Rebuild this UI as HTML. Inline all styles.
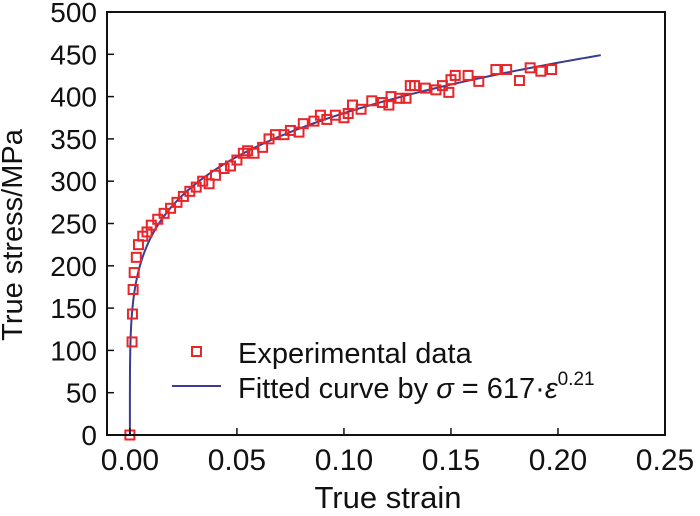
<!DOCTYPE html>
<html><head><meta charset="utf-8"><style>
html,body{margin:0;padding:0;background:#fff;}
svg{display:block;font-family:"Liberation Sans",Arial,sans-serif;}
</style></head><body>
<svg id="chart" width="700" height="516" viewBox="0 0 700 516" xmlns="http://www.w3.org/2000/svg">
<g id="plot"></g>
<g id="axes"></g>
<g id="legend">
  <rect x="192" y="347" width="9" height="9" fill="none" stroke="#e8262a" stroke-width="2"/>
  <text x="238" y="363" font-size="29" fill="#111">Experimental data</text>
  <line x1="172" y1="386" x2="221" y2="386" stroke="#3a3d8f" stroke-width="2"/>
  <text x="238" y="398" font-size="29" fill="#111">Fitted curve by <tspan font-style="italic">σ</tspan> = 617·<tspan font-style="italic">ε</tspan><tspan font-size="19" dy="-13">0.21</tspan></text>
</g>
<text x="388" y="508" font-size="31" text-anchor="middle" fill="#111">True strain</text>
<text transform="translate(22,235) rotate(-90)" font-size="29" text-anchor="middle" fill="#111">True stress/MPa</text>
</svg>
<script>
const xTicks=[0,0.05,0.10,0.15,0.20,0.25];
const xTickLabels=["0.00","0.05","0.10","0.15","0.20","0.25"];
const yTicks=[0,50,100,150,200,250,300,350,400,450,500];
const yTickLabels=["0","50","100","150","200","250","300","350","400","450","500"];
const expStrain=[0,0.001,0.0012,0.0015,0.002,0.003,0.004,0.006,0.008,0.010,0.013,0.016,0.019,0.022,0.025,0.028,0.031,0.034,0.037,0.040,0.044,0.047,0.050,0.053,0.055,0.058,0.062,0.065,0.068,0.072,0.075,0.079,0.081,0.086,0.089,0.092,0.096,0.100,0.102,0.104,0.108,0.113,0.118,0.121,0.122,0.126,0.129,0.131,0.133,0.138,0.143,0.146,0.149,0.150,0.152,0.158,0.163,0.171,0.176,0.182,0.187,0.192,0.197];
const expStress=[0,110,143,172,192,210,225,235,240,248,255,262,268,275,282,288,293,300,297,307,315,318,325,333,336,333,340,350,355,355,360,358,368,371,378,373,378,375,380,390,385,395,393,390,400,398,398,413,413,410,408,413,405,420,425,425,418,432,432,419,434,430,432];
const fitK=617, fitN=0.21, fitMax=0.22;
const X0=107,X1=665,Y0=435,Y1=12,XMIN=-0.0107,XMAX=0.25,YMIN=0,YMAX=500;
const sx=v=>X0+(v-XMIN)/(XMAX-XMIN)*(X1-X0);
const sy=v=>Y0-(v-YMIN)/(YMAX-YMIN)*(Y0-Y1);
const NS="http://www.w3.org/2000/svg";
function mk(t,a,p){const e=document.createElementNS(NS,t);for(const k in a)e.setAttribute(k,a[k]);p.appendChild(e);return e;}
const axes=document.getElementById('axes'),plot=document.getElementById('plot');
const frame=mk('rect',{x:X0,y:Y1,width:X1-X0,height:Y0-Y1,fill:'none',stroke:'#111','stroke-width':2},axes);


xTicks.forEach((v,i)=>{
  const t=mk('line',{x1:sx(v),x2:sx(v),y1:Y0,y2:Y0-7,stroke:'#111','stroke-width':1.5},axes);
  
  
  const l=mk('text',{x:sx(v),y:470,'font-size':30,'text-anchor':'middle',fill:'#111'},axes);
  
  
  l.textContent=xTickLabels[i];
});
yTicks.forEach((v,i)=>{
  const t=mk('line',{x1:X0,x2:X0+7,y1:sy(v),y2:sy(v),stroke:'#111','stroke-width':1.5},axes);
  
  
  const s=yTickLabels[i];
  const l=mk('text',{x:97,y:sy(v)+10,'font-size':28,'text-anchor':'end',fill:'#111'},axes);
  
  
  l.textContent=s;
});
let d='';
for(let i=0;i<=400;i++){const e=fitMax*Math.pow(i/400,3);d+=(i?'L':'M')+sx(e).toFixed(2)+','+sy(fitK*Math.pow(e,fitN)).toFixed(2);}
const curve=mk('path',{d:d,fill:'none',stroke:'#3a3d8f','stroke-width':2},plot);


expStrain.forEach((e,i)=>{
  const r=mk('rect',{x:sx(e)-4.5,y:sy(expStress[i])-4.5,width:9,height:9,fill:'none',stroke:'#e8262a','stroke-width':2},plot);
  
  
});
</script>
</body></html>
